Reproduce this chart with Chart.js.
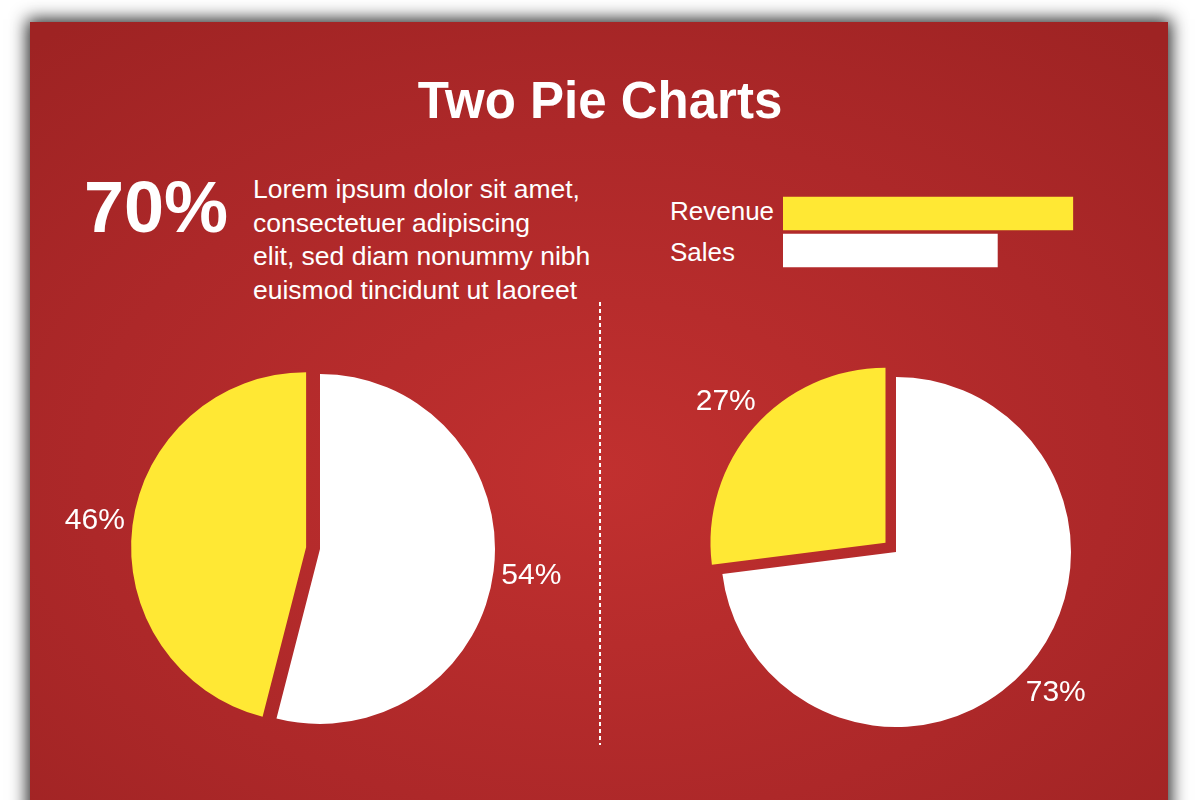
<!DOCTYPE html>
<html lang="en">
<head>
    <meta charset="UTF-8">
    <title>Two Pie Charts</title>
    <script src="https://cdn.jsdelivr.net/npm/chart.js"></script>
    <style>
        html, body { margin: 0; padding: 0; background: #fff; width: 1200px; height: 800px; overflow: hidden; }
        body { font-family: "Liberation Sans", Arial, Helvetica, sans-serif; color: #fff; }
        .panel {
            position: absolute; left: 30px; top: 22px; width: 1138px; height: 820px;
            background: radial-gradient(ellipse 75% 70% at 50% 55%, #c1302f 0%, #ad2829 60%, #9e2323 100%);
            box-shadow: 0 0 16px 3px rgba(0, 0, 0, 0.85);
        }
        .title { position: absolute; left: 0; top: 71px; width: 1200px; text-align: center; font-weight: bold; font-size: 51px; line-height: 60px; }
        .big { position: absolute; left: 84px; top: 167px; font-weight: bold; font-size: 72px; line-height: 80px; }
        .para { position: absolute; left: 253px; top: 173px; font-size: 26.5px; line-height: 33.5px; white-space: nowrap; }
        .lbl { position: absolute; left: 670px; font-size: 26px; line-height: 30px; }
        .dots { position: absolute; left: 599px; top: 302px; width: 2px; height: 443px;
            background: repeating-linear-gradient(to bottom, #fff 0 4px, transparent 4px 7px); }
        canvas { position: absolute; }
    </style>
</head>
<body>
    <div class="panel"></div>
    <div class="title">Two Pie Charts</div>
    <div class="big">70%</div>
    <div class="para">Lorem ipsum dolor sit amet,<br>consectetuer adipiscing<br>elit, sed diam nonummy nibh<br>euismod tincidunt ut laoreet</div>
    <div class="lbl" style="top:196px">Revenue</div>
    <div class="lbl" style="top:237px">Sales</div>
    <div class="dots"></div>

    <canvas id="barras" width="397" height="74" style="left:783px; top:195px"></canvas>
    <canvas id="pizzaEsq" width="520" height="520" style="left:60px; top:289px"></canvas>
    <canvas id="pizzaDir" width="520" height="520" style="left:636px; top:292px"></canvas>

    <script>
        // Dados
        const categorias = ['Sales', 'Revenue'];
        const pizzaEsqValores = [54, 46];
        const pizzaDirValores = [73, 27];
        const barrasCategorias = ['Revenue', 'Sales'];
        const barrasValores = [73, 54];

        const AMARELO = '#ffe834';
        const BRANCO = '#ffffff';

        // Desloca cada fatia ao longo da sua bissetriz (sem mudar o raio)
        const explodir = {
            id: 'explodir',
            afterUpdate(chart) {
                const ds = chart.data.datasets[0];
                chart.getDatasetMeta(0).data.forEach((arc, i) => {
                    const base = Object.getPrototypeOf(arc).draw;
                    const d = ds.explode[i] || 0;
                    arc.draw = function (ctx) {
                        const meio = (this.startAngle + this.endAngle) / 2;
                        ctx.save();
                        ctx.translate(Math.cos(meio) * d, Math.sin(meio) * d);
                        base.call(this, ctx);
                        ctx.restore();
                    };
                });
            }
        };

        // Rótulos de porcentagem fora das fatias
        const rotulos = {
            id: 'rotulos',
            afterDatasetsDraw(chart) {
                const ctx = chart.ctx;
                const ds = chart.data.datasets[0];
                ctx.save();
                ctx.font = '30px "Liberation Sans", Arial, sans-serif';
                ctx.fillStyle = '#fff';
                ctx.textAlign = 'center';
                ctx.textBaseline = 'middle';
                chart.getDatasetMeta(0).data.forEach((arc, i) => {
                    const p = arc.getProps(['x', 'y', 'startAngle', 'endAngle', 'outerRadius'], true);
                    const meio = (p.startAngle + p.endAngle) / 2;
                    const r = p.outerRadius + ds.explode[i] + 38;
                    ctx.fillText(ds.data[i] + '%', p.x + Math.cos(meio) * r, p.y + Math.sin(meio) * r);
                });
                ctx.restore();
            }
        };

        function criarPizza(id, valores) {
            return new Chart(document.getElementById(id), {
                type: 'pie',
                data: {
                    labels: categorias,
                    datasets: [{
                        data: valores,
                        backgroundColor: [BRANCO, AMARELO],
                        borderWidth: 0,
                        explode: [0, 14]
                    }]
                },
                options: {
                    responsive: false,
                    animation: false,
                    radius: 175,
                    layout: { padding: 0 },
                    plugins: { legend: { display: false }, tooltip: { enabled: false } }
                },
                plugins: [explodir, rotulos]
            });
        }

        criarPizza('pizzaEsq', pizzaEsqValores);
        criarPizza('pizzaDir', pizzaDirValores);

        // Barras da legenda
        new Chart(document.getElementById('barras'), {
            type: 'bar',
            data: {
                labels: barrasCategorias,
                datasets: [{
                    data: barrasValores,
                    backgroundColor: [AMARELO, BRANCO],
                    borderWidth: 0,
                    barThickness: 33,
                    categoryPercentage: 1
                }]
            },
            options: {
                indexAxis: 'y',
                responsive: false,
                animation: false,
                layout: { padding: 0 },
                scales: {
                    x: { display: false, min: 0, max: 100 },
                    y: { display: false }
                },
                plugins: { legend: { display: false }, tooltip: { enabled: false } }
            }
        });
    </script>
</body>
</html>
